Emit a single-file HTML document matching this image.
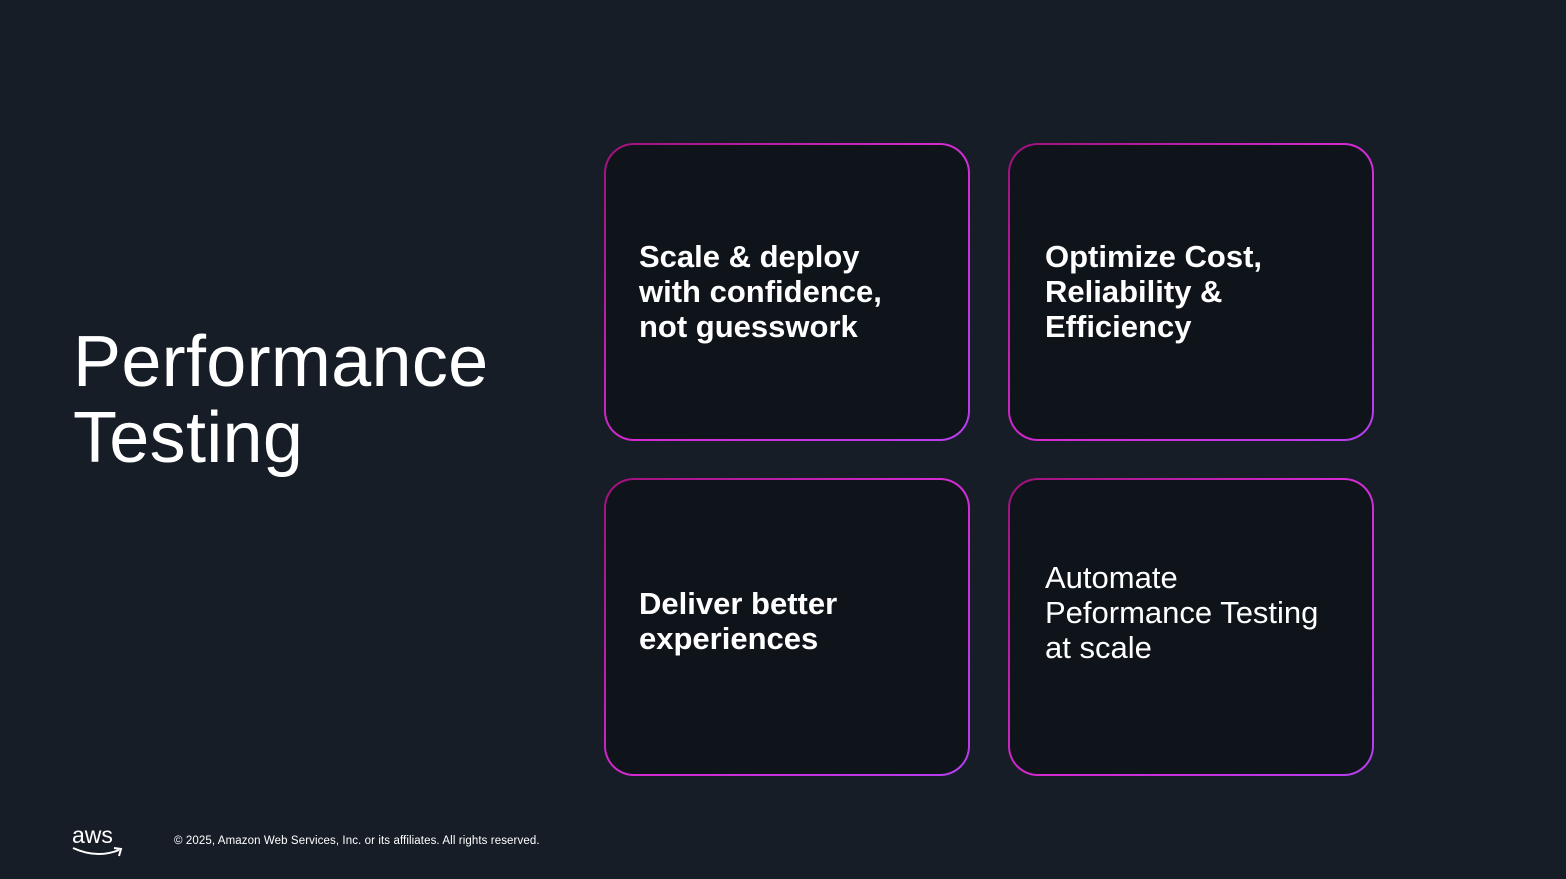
<!DOCTYPE html>
<html><head><meta charset="utf-8"><style>
body{margin:0;width:1566px;height:879px;background:#171d27;position:relative;overflow:hidden;font-family:"Liberation Sans","DejaVu Sans",sans-serif;color:#fff}
.t{position:absolute;left:73px;top:324px;font-size:72px;line-height:76px;letter-spacing:0.3px}
.b{position:absolute;width:362px;height:294px;border:2px solid transparent;border-radius:30px;
background:linear-gradient(#0f131a,#0f131a) padding-box,linear-gradient(135deg,#a0107a 0%,#d42ad0 50%,#b53ef0 100%) border-box}
.x{position:absolute;left:33px;font-size:31px;line-height:35px;font-weight:bold;letter-spacing:0px}
.n{font-weight:normal}
.f{position:absolute;left:174px;top:835px;font-size:11.5px;letter-spacing:0.1px}
.aws{position:absolute;left:72px;top:824px;font-size:23px;line-height:22px}
</style></head><body>
<div class="t">Performance<br>Testing</div>
<div class="b" style="left:604px;top:143px"><div class="x" style="top:94px">Scale &amp; deploy<br>with confidence,<br>not guesswork</div></div>
<div class="b" style="left:1008px;top:143px"><div class="x" style="top:94px;left:35px">Optimize Cost,<br>Reliability &amp;<br>Efficiency</div></div>
<div class="b" style="left:604px;top:478px"><div class="x" style="top:106px">Deliver better<br>experiences</div></div>
<div class="b" style="left:1008px;top:478px"><div class="x n" style="top:80px;left:35px">Automate<br>Peformance Testing<br>at scale</div></div>
<div class="aws">aws</div>
<svg style="position:absolute;left:71px;top:845px" width="54" height="14"><path d="M2 3 Q26 14 48 5" stroke="#fff" stroke-width="2" fill="none"/><path d="M43 3 L50 4 L48 11" stroke="#fff" stroke-width="2" fill="none"/></svg>
<div class="f">© 2025, Amazon Web Services, Inc. or its affiliates. All rights reserved.</div>
</body></html>
